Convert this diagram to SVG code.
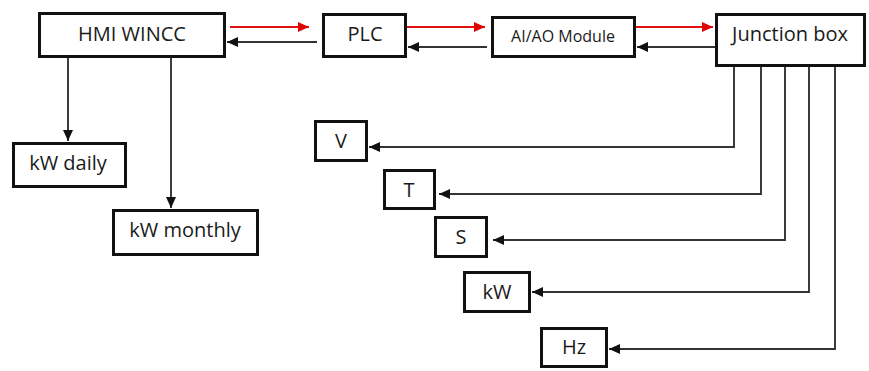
<svg xmlns="http://www.w3.org/2000/svg" width="869" height="371" viewBox="0 0 869 371">
<style>
.box{fill:#fff;stroke:#111;stroke-width:3}
.t{font-family:"Open Sans","Liberation Sans",sans-serif;font-size:20px;fill:#1a1a1a;text-anchor:middle}
.s{font-size:16px}
.c{fill:none;stroke:#333;stroke-width:1.9}
.r{fill:none;stroke:#e01010;stroke-width:2}
</style>
<defs>
<marker id="ab" markerUnits="userSpaceOnUse" markerWidth="12" markerHeight="11" refX="11" refY="5" orient="auto">
<path d="M0,0 L11,5 L0,10 z" fill="#111"/>
</marker>
<marker id="ar" markerUnits="userSpaceOnUse" markerWidth="12" markerHeight="11" refX="11" refY="5" orient="auto">
<path d="M0,0 L11,5 L0,10 z" fill="#e00000"/>
</marker>
</defs>
<rect width="869" height="371" fill="#fff"/>
<g id="connectors">
<path class="r" d="M230,27 H309" marker-end="url(#ar)"/>
<path class="c" d="M317,42 H227" marker-end="url(#ab)"/>
<path class="r" d="M407,27 H485" marker-end="url(#ar)"/>
<path class="c" d="M487,47 H408" marker-end="url(#ab)"/>
<path class="r" d="M636,27 H713" marker-end="url(#ar)"/>
<path class="c" d="M717,47 H637" marker-end="url(#ab)"/>
<path class="c" d="M68,58 V141" marker-end="url(#ab)"/>
<path class="c" d="M171,58 V208" marker-end="url(#ab)"/>
<path class="c" d="M734,67 V147 H369" marker-end="url(#ab)"/>
<path class="c" d="M761,67 V194 H439" marker-end="url(#ab)"/>
<path class="c" d="M785,67 V240 H493" marker-end="url(#ab)"/>
<path class="c" d="M809,67 V292 H532" marker-end="url(#ab)"/>
<path class="c" d="M835,67 V349 H609" marker-end="url(#ab)"/>
</g>
<g id="hmi"><rect class="box" x="39.5" y="13.5" width="185" height="43"/><text class="t" x="132" y="41">HMI WINCC</text></g>
<g id="plc"><rect class="box" x="323.5" y="14.5" width="82" height="42"/><text class="t" x="365" y="41">PLC</text></g>
<g id="aiao"><rect class="box" x="492.5" y="17.5" width="142" height="39"/><text class="t s" x="563" y="42">AI/AO Module</text></g>
<g id="jb"><rect class="box" x="716.5" y="14.5" width="148" height="51"/><text class="t" x="790" y="41">Junction box</text></g>
<g id="kwdaily"><rect class="box" x="13.5" y="143.5" width="112" height="43"/><text class="t" x="68" y="170">kW daily</text></g>
<g id="kwmonthly"><rect class="box" x="113.5" y="210.5" width="144" height="44"/><text class="t" x="185" y="237">kW monthly</text></g>
<g id="v"><rect class="box" x="315.5" y="121.5" width="51" height="39"/><text class="t" x="341" y="148">V</text></g>
<g id="t"><rect class="box" x="384.5" y="170.5" width="50" height="38"/><text class="t" x="409" y="197">T</text></g>
<g id="s"><rect class="box" x="435.5" y="217.5" width="51" height="39"/><text class="t" x="461" y="244">S</text></g>
<g id="kw"><rect class="box" x="464.5" y="272.5" width="65" height="39"/><text class="t" x="497" y="299">kW</text></g>
<g id="hz"><rect class="box" x="541.5" y="328.5" width="65" height="38"/><text class="t" x="574" y="354">Hz</text></g>
</svg>
